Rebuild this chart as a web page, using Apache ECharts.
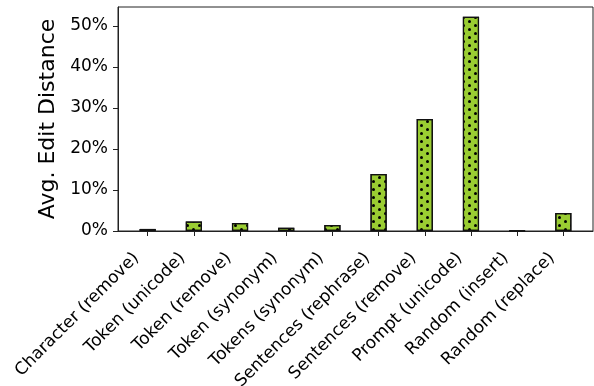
<!DOCTYPE html>
<html>
<head>
<meta charset="utf-8">
<script src="https://cdn.jsdelivr.net/npm/echarts@6/dist/echarts.min.js"></script>
<style>html,body{margin:0;padding:0;background:#fff;}#c{width:594px;height:386px;}</style>
</head>
<body>
<div id="c"></div>
<script>
const categories = ['Character (remove)', 'Token (unicode)', 'Token (remove)', 'Token (synonym)', 'Tokens (synonym)', 'Sentences (rephrase)', 'Sentences (remove)', 'Prompt (unicode)', 'Random (insert)', 'Random (replace)'];
const editDistance = [0.5, 2.3, 1.95, 0.8, 1.45, 13.9, 27.3, 52.2, 0.05, 4.4];
const yTicks = [0, 10, 20, 30, 40, 50];

const chart = echarts.init(document.getElementById('c'), null, {renderer: 'canvas'});
const xPositions = categories.map((_, i) => i);
const font = 'DejaVu Sans';
chart.setOption({
  animation: false,
  backgroundColor: '#fff',
  grid: {left: 118, right: 1, top: 7, bottom: 155, show: true, borderColor: '#222', borderWidth: 1, backgroundColor: 'transparent', containLabel: false, outerBoundsMode: 'none'},
  xAxis: {
    type: 'value', min: -0.6425, max: 9.6425,
    splitLine: {show: false},
    axisLine: {show: true, onZero: false, lineStyle: {color: '#222', width: 1}},
    axisTick: {show: true, length: 5, lineStyle: {color: '#222', width: 1}, customValues: xPositions},
    axisLabel: {
      customValues: xPositions, rotate: 45, margin: 13, color: '#000',
      fontFamily: font, fontSize: 17, padding: [0, 16, 0, 0],
      formatter: v => categories[Math.round(v)]
    }
  },
  yAxis: {
    type: 'value', min: 0, max: 54.6,
    name: 'Avg. Edit Distance', nameLocation: 'middle', nameGap: 58,
    nameTextStyle: {fontFamily: font, fontSize: 22, color: '#000'},
    splitLine: {show: false},
    axisLine: {show: true, onZero: false, lineStyle: {color: '#222', width: 1}},
    axisTick: {show: true, length: 5, lineStyle: {color: '#222', width: 1}, customValues: yTicks},
    axisLabel: {customValues: yTicks, margin: 10, color: '#000', fontFamily: font, fontSize: 17, formatter: v => v + '%'}
  },
  series: [{
    type: 'bar',
    data: editDistance.map((v, i) => [i, v]),
    barWidth: 16.2,
    itemStyle: {
      color: '#9acd32', borderColor: '#111', borderWidth: 1.2,
      decal: {symbol: 'circle', symbolSize: 1, color: '#000', dashArrayX: [[3, 9], [0, 6, 3, 3]], dashArrayY: [3, 1], rotation: 0}
    }
  }]
});
</script>
</body>
</html>
